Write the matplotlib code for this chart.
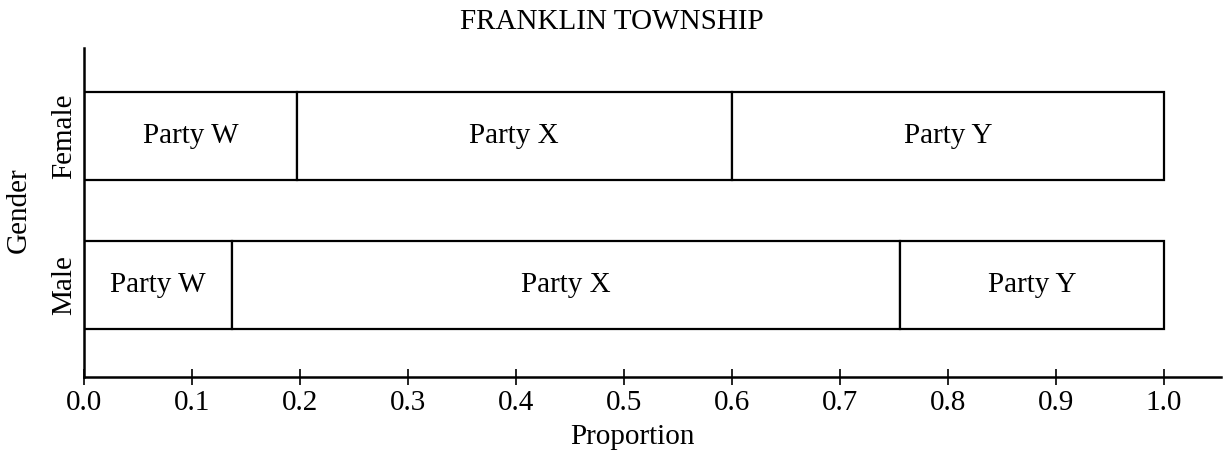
import matplotlib
matplotlib.use("Agg")
import matplotlib.pyplot as plt

plt.rcParams['font.family'] = ['Liberation Serif', 'DejaVu Serif']

title = "FRANKLIN TOWNSHIP"
genders = ["Male", "Female"]
parties = ["Party W", "Party X", "Party Y"]
# proportions per gender (Male, Female)
party_w = [0.137, 0.197]
party_x = [0.619, 0.403]
party_y = [0.244, 0.400]
xticks = [0.0, 0.1, 0.2, 0.3, 0.4, 0.5, 0.6, 0.7, 0.8, 0.9, 1.0]
xtick_labels = ["0.0", "0.1", "0.2", "0.3", "0.4", "0.5", "0.6", "0.7", "0.8", "0.9", "1.0"]

FS = 21

fig = plt.figure(figsize=(12.25, 4.58), dpi=100)
ax = fig.add_axes([84/1225, 1-377/458, (1221-84)/1225, (377-48)/458])

ypos = [0, 1]
series = [party_w, party_x, party_y]
left = [0.0, 0.0]
for name, vals in zip(parties, series):
    ax.barh(ypos, vals, left=left, height=0.59, color='white',
            edgecolor='black', linewidth=1.6)
    for y, l, v in zip(ypos, left, vals):
        ax.text(l + v/2, y, name, ha='center', va='center', fontsize=FS)
    left = [a + b for a, b in zip(left, vals)]

ax.set_xlim(0, 1.053)
ax.set_ylim(-0.617, 1.59)
ax.set_xticks(xticks)
ax.set_xticklabels(xtick_labels, fontsize=FS)
ax.set_yticks(ypos)
ax.set_yticklabels(genders, fontsize=FS, rotation=90, va='center')
ax.tick_params(axis='y', length=0, pad=5)
ax.tick_params(axis='x', direction='inout', length=12, width=1.2, pad=3)
for s in ['top', 'right']:
    ax.spines[s].set_visible(False)
for s in ['left', 'bottom']:
    ax.spines[s].set_linewidth(1.8)

fig.text(612/1225, 1-22/458, title, ha='center', va='center', fontsize=FS)
fig.text(632/1225, 1-437/458, "Proportion", ha='center', va='center', fontsize=FS)
fig.text(19/1225, 1-210/458, "Gender", ha='center', va='center', fontsize=FS, rotation=90)

fig.savefig("out.png", dpi=100)
